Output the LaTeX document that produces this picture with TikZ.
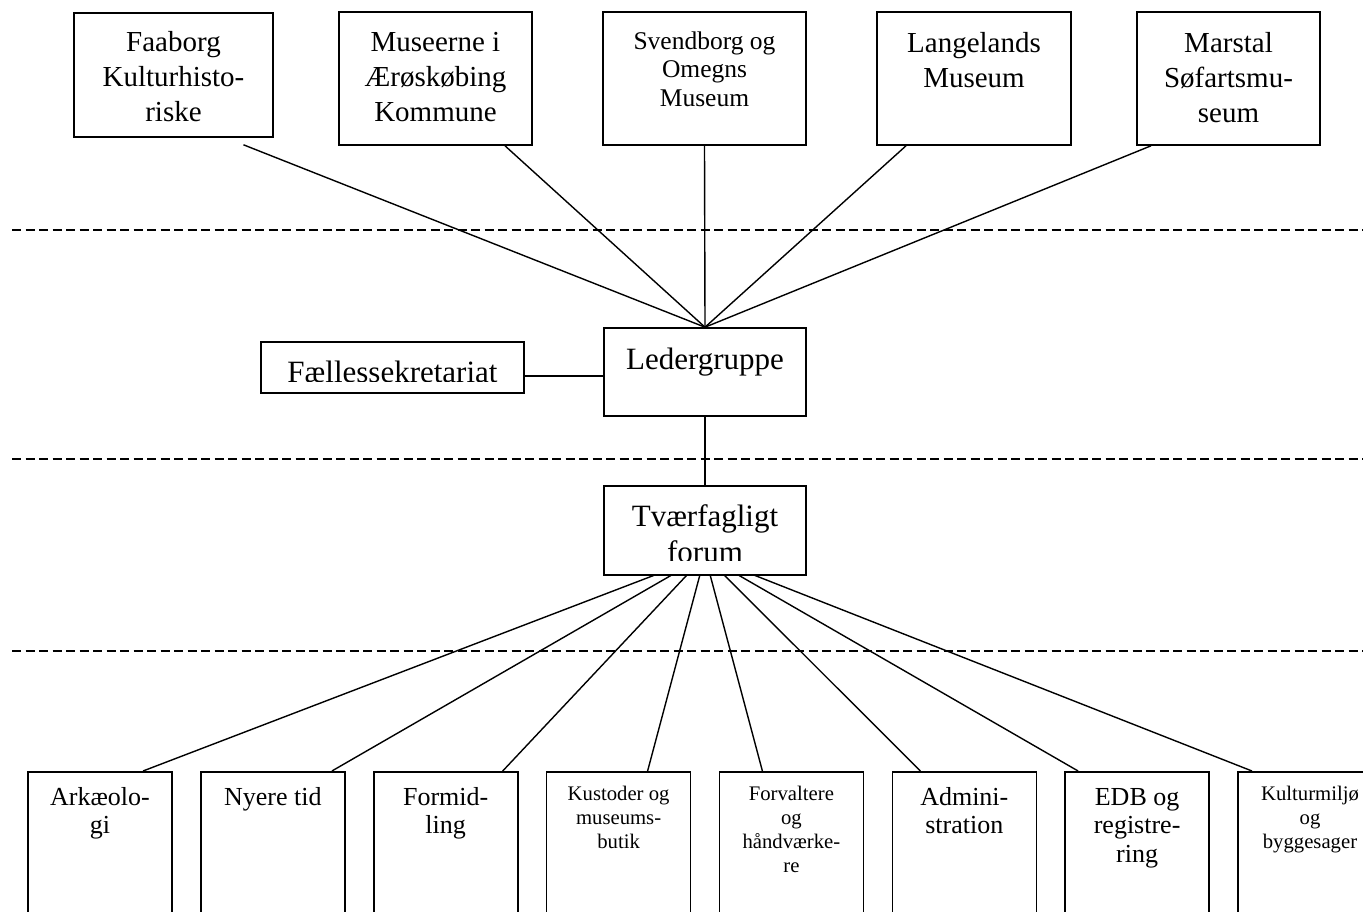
\documentclass[tikz,border=0pt]{standalone}
\usepackage{fontspec}
\setmainfont{Liberation Serif}
\usetikzlibrary{positioning,backgrounds}

\begin{document}
\begin{tikzpicture}[
    x=1pt,
    y=-1pt,
    line width=1.4pt
]

\tikzstyle{unit}=[
    draw,
    fill=white,
    rectangle,
    inner sep=0pt,
    line width=1.6pt
]
\tikzstyle{dept}=[unit, minimum width=144pt, minimum height=170pt, anchor=north]
\tikzstyle{level}=[dash pattern=on 9pt off 4.5pt, line width=1.3pt]
\tikzstyle{link}=[line width=1.4pt]
\tikzstyle{museumtxt}=[align=center, inner sep=0pt, anchor=base, font=\fontsize{29}{35}\selectfont]
\tikzstyle{smalltxt}=[align=center, inner sep=0pt, anchor=base, font=\fontsize{25.5}{28.5}\selectfont]
\tikzstyle{leadtxt}=[align=center, inner sep=0pt, anchor=base, font=\fontsize{31}{36}\selectfont]
\tikzstyle{depttxt}=[align=center, inner sep=0pt, anchor=base, font=\fontsize{26}{28.5}\selectfont]
\tikzstyle{minitxt}=[align=center, inner sep=0pt, anchor=base, font=\fontsize{20.7}{24}\selectfont]

\useasboundingbox (0,0) rectangle (1363,911);
\clip (0,0) rectangle (1363,911);

% levels
\draw[level] (12,230) -- (1363,230);
\draw[level] (12,459) -- (1363,459);
\draw[level] (12,651) -- (1363,651);

% museums
\node[unit, minimum width=199pt, minimum height=124pt] (faaborg) at (173.5,75) {};
\node[unit, minimum width=193pt, minimum height=133pt] (museerne) at (435.5,78.5) {};
\node[unit, minimum width=203pt, minimum height=133pt] (svendborg) at (704.5,78.5) {};
\node[unit, minimum width=194pt, minimum height=133pt] (langelands) at (974,78.5) {};
\node[unit, minimum width=183pt, minimum height=133pt] (marstal) at (1228.5,78.5) {};

% anchor=base is the baseline of the last line
\node[museumtxt] (faaborg-t) at ([yshift=-109.3pt]faaborg.north) {Faaborg\\Kulturhisto-\\riske};
\node[museumtxt] (museerne-t) at ([yshift=-110pt]museerne.north) {Museerne i\\Ærøskøbing\\Kommune};
\node[smalltxt] (svendborg-t) at ([yshift=-95pt]svendborg.north) {Svendborg og\\Omegns\\Museum};
\node[museumtxt] (langelands-t) at ([yshift=-76pt]langelands.north) {Langelands\\Museum};
\node[museumtxt] (marstal-t) at ([yshift=-111pt]marstal.north) {Marstal\\Søfartsmu-\\seum};

% leadership
\node[unit, minimum width=202pt, minimum height=88pt] (ledergruppe) at (705,372) {};
\node[leadtxt] (ledergruppe-t) at ([yshift=-42pt]ledergruppe.north) {Ledergruppe};

\node[unit, minimum width=263pt, minimum height=51pt] (faelles) at (392.5,367.5) {};
\begin{scope}
    \clip (faelles.north west) rectangle ([yshift=12pt]faelles.south east);
    \node[leadtxt] (faelles-t) at ([yshift=-41pt]faelles.north) {Fællessekretariat};
\end{scope}

\node[unit, minimum width=202pt, minimum height=89pt] (tvaer) at (705,530.5) {};
\begin{scope}
    \clip (tvaer.north west) rectangle ([yshift=15pt]tvaer.south east);
    \node[leadtxt] (tvaer-t) at ([yshift=-77pt]tvaer.north) {Tværfagligt\\forum};
\end{scope}

% departments
\node[dept] (arkaeologi) at (100,771) {};
\node[dept] (nyere) at (272.9,771) {};
\node[dept] (formidling) at (445.7,771) {};
\node[dept] (kustoder) at (618.6,771) {};
\node[dept] (forvaltere) at (791.4,771) {};
\node[dept] (administration) at (964.3,771) {};
\node[dept] (edb) at (1137.1,771) {};
\node[dept] (kulturmiljo) at (1310,771) {};

\node[depttxt] (arkaeologi-t) at ([yshift=-62.5pt]arkaeologi.north) {Arkæolo-\\gi};
\node[depttxt] (nyere-t) at ([yshift=-34pt]nyere.north) {Nyere tid};
\node[depttxt] (formidling-t) at ([yshift=-62.5pt]formidling.north) {Formid-\\ling};
\node[minitxt] (kustoder-t) at ([yshift=-77pt]kustoder.north) {Kustoder og\\museums-\\butik};
\node[minitxt] (forvaltere-t) at ([yshift=-101pt]forvaltere.north) {Forvaltere\\og\\håndværke-\\re};
\node[depttxt] (administration-t) at ([yshift=-62.5pt]administration.north) {Admini-\\stration};
\node[depttxt] (edb-t) at ([yshift=-91pt]edb.north) {EDB og\\registre-\\ring};
\node[minitxt] (kulturmiljo-t) at ([yshift=-77pt]kulturmiljo.north) {Kulturmiljø\\og\\byggesager};

% connectors
\begin{pgfonlayer}{background}
    \fill[white] (0,0) rectangle (1363,911);
    \foreach \museum/\off/\lift in {faaborg/70/7, museerne/69.5/0, svendborg/0/0, langelands/-68/0, marstal/-77.5/0}
        \draw[link] ([xshift=\off pt, yshift=-\lift pt]\museum.south) -- (ledergruppe.north);
    \draw[link] ([yshift=-8.5pt]faelles.east) -- ([yshift=-4pt]ledergruppe.west);
    \draw[link] (ledergruppe.south) -- (tvaer.north);
    \coordinate (fan) at ([yshift=20pt]tvaer.south);
    \foreach \dept/\off in {arkaeologi/43, nyere/59, formidling/57, kustoder/29, forvaltere/-29, administration/-44, edb/-59, kulturmiljo/-58}
        \draw[link] (fan) -- ([xshift=\off pt]\dept.north);
\end{pgfonlayer}

\end{tikzpicture}
\end{document}
